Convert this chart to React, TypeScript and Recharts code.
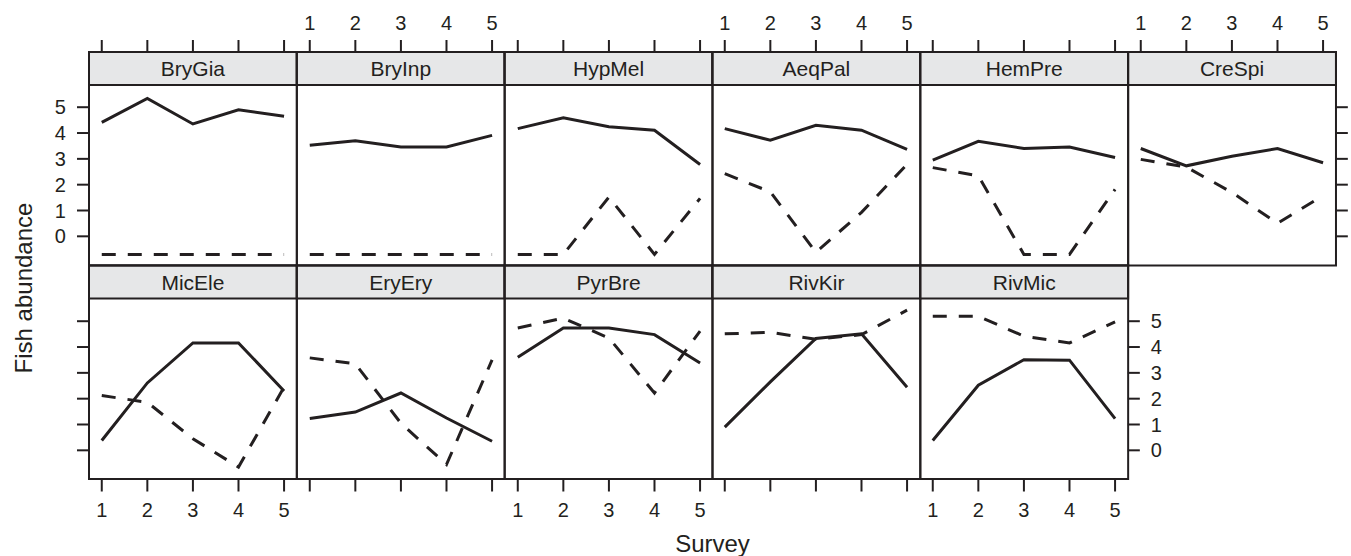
import React from 'react';
import { LineChart, Line, XAxis, YAxis } from 'recharts';

const species = ['BryGia', 'BryInp', 'HypMel', 'AeqPal', 'HemPre', 'CreSpi', 'MicEle', 'EryEry', 'PyrBre', 'RivKir', 'RivMic'];
const surveys = [1, 2, 3, 4, 5];
const yTicks = [0, 1, 2, 3, 4, 5];

// solid line per species (survey 1..5)
const solidSeries = [
  [4.41, 5.34, 4.35, 4.9, 4.65],
  [3.53, 3.7, 3.46, 3.46, 3.91],
  [4.17, 4.59, 4.24, 4.11, 2.78],
  [4.17, 3.72, 4.3, 4.11, 3.37],
  [2.95, 3.68, 3.4, 3.46, 3.05],
  [3.4, 2.73, 3.1, 3.4, 2.85],
  [0.38, 2.61, 4.16, 4.16, 2.3],
  [1.23, 1.48, 2.22, 1.25, 0.35],
  [3.6, 4.74, 4.74, 4.48, 3.38],
  [0.9, 2.65, 4.33, 4.51, 2.44],
  [0.38, 2.52, 3.51, 3.49, 1.23],
];
// dashed line per species (survey 1..5)
const dashedSeries = [
  [-0.7, -0.7, -0.7, -0.7, -0.7],
  [-0.7, -0.7, -0.7, -0.7, -0.7],
  [-0.7, -0.7, 1.52, -0.7, 1.47],
  [2.43, 1.72, -0.62, 0.93, 2.79],
  [2.66, 2.34, -0.7, -0.7, 1.82],
  [2.98, 2.68, 1.7, 0.5, 1.58],
  [2.12, 1.86, 0.45, -0.65, 2.45],
  [3.58, 3.35, 1.05, -0.55, 3.5],
  [4.74, 5.12, 4.35, 2.22, 4.62],
  [4.51, 4.57, 4.3, 4.48, 5.43],
  [5.19, 5.19, 4.42, 4.16, 4.97],
];

const INK = '#231f20';
const STRIP_FILL = '#e6e7e8';
const FONT = '"Liberation Sans", Arial, Helvetica, sans-serif';
const COLS = 6;
const PANEL_LEFT = 89;
const PANEL_W = 207.83;
const STRIP_H = 33;
const ROW_TOP = [52, 265.5];
const ROW_BOTTOM = [265.5, 479];
const X_DOMAIN: [number, number] = [0.72, 5.28];
const Y_MIN = -1.13;
const Y_MAX = 5.86;
const PAD_X = 70;
const PAD_Y = 60;
const Y_AXIS_W = 60;
const X_AXIS_H = 50;
const TICK_FONT = 20;

const hiddenTick = () => <g />;

function panelGeom(idx: number) {
  const row = idx < COLS ? 0 : 1;
  const col = row === 0 ? idx : idx - COLS;
  const left = PANEL_LEFT + col * PANEL_W;
  const top = ROW_TOP[row];
  const bottom = ROW_BOTTOM[row];
  return { row, col, left, top, bottom };
}

function Panel({ idx }: { idx: number }) {
  const { row, col, left, top, bottom } = panelGeom(idx);
  const plotH = bottom - top;
  const panelH = plotH - STRIP_H;
  const pxPerUnit = panelH / (Y_MAX - Y_MIN);
  const yTop = Y_MIN + plotH / pxPerUnit;
  const data = surveys.map((s, i) => ({ survey: s, solid: solidSeries[idx][i], dashed: dashedSeries[idx][i] }));
  const lastCol = row === 0 ? COLS - 1 : species.length - COLS - 1;
  const leftAxis = col === 0;
  const rightAxis = col === lastCol;
  const yLabels = (row === 0 && leftAxis) || (row === 1 && rightAxis);
  const xLabels = row === 0 ? col % 2 === 1 : col % 2 === 0;
  const tickStyle = { fill: INK, fontSize: TICK_FONT, fontFamily: FONT };

  const margin = {
    top: row === 0 ? PAD_Y - X_AXIS_H : PAD_Y,
    bottom: row === 1 ? PAD_Y - X_AXIS_H : PAD_Y,
    left: leftAxis ? PAD_X - Y_AXIS_W : PAD_X,
    right: rightAxis ? PAD_X - Y_AXIS_W : PAD_X,
  };

  return (
    <div style={{ position: 'absolute', left: left - PAD_X, top: top - PAD_Y }}>
      <LineChart width={PANEL_W + 2 * PAD_X} height={plotH + 2 * PAD_Y} data={data} margin={margin}>
        <XAxis
          type="number"
          dataKey="survey"
          domain={X_DOMAIN}
          allowDataOverflow
          ticks={surveys}
          interval={0}
          orientation={row === 0 ? 'top' : 'bottom'}
          height={X_AXIS_H}
          tickSize={12}
          tickMargin={row === 0 ? 10 : 11}
          axisLine={false}
          stroke={INK}
          tickLine={{ stroke: INK, strokeWidth: 2 }}
          tick={xLabels ? tickStyle : hiddenTick}
        />
        <YAxis
          type="number"
          domain={[Y_MIN, yTop]}
          allowDataOverflow
          ticks={yTicks}
          interval={0}
          hide={!leftAxis && !rightAxis}
          orientation={rightAxis ? 'right' : 'left'}
          width={Y_AXIS_W}
          tickSize={12}
          tickMargin={11}
          axisLine={false}
          stroke={INK}
          tickLine={{ stroke: INK, strokeWidth: 2 }}
          tick={yLabels ? tickStyle : hiddenTick}
        />
        <Line
          type="linear"
          dataKey="solid"
          stroke={INK}
          strokeWidth={3}
          dot={false}
          isAnimationActive={false}
        />
        <Line
          type="linear"
          dataKey="dashed"
          stroke={INK}
          strokeWidth={3}
          strokeDasharray="14 12"
          dot={false}
          isAnimationActive={false}
        />
      </LineChart>
    </div>
  );
}

function Frames() {
  return (
    <svg width={1351} height={556} style={{ position: 'absolute', left: 0, top: 0 }}>
      {species.map((name, idx) => {
        const { left, top, bottom } = panelGeom(idx);
        return (
          <g key={name}>
            <rect x={left} y={top} width={PANEL_W} height={STRIP_H} fill={STRIP_FILL} stroke={INK} strokeWidth={2} />
            <rect x={left} y={top} width={PANEL_W} height={bottom - top} fill="none" stroke={INK} strokeWidth={2} />
            <text
              x={left + PANEL_W / 2}
              y={top + STRIP_H / 2}
              textAnchor="middle"
              dominantBaseline="central"
              fontSize={21}
              fill={INK}
              fontFamily={FONT}
            >
              {name}
            </text>
          </g>
        );
      })}
      <text
        x={23}
        y={288}
        transform="rotate(-90 23 288)"
        textAnchor="middle"
        dominantBaseline="central"
        fontSize={24}
        fill={INK}
        fontFamily={FONT}
      >
        Fish abundance
      </text>
      <text
        x={PANEL_LEFT + (COLS * PANEL_W) / 2}
        y={543}
        textAnchor="middle"
        dominantBaseline="central"
        fontSize={24}
        fill={INK}
        fontFamily={FONT}
      >
        Survey
      </text>
    </svg>
  );
}

export default function App() {
  return (
    <div
      style={{
        position: 'absolute',
        left: 0,
        top: 0,
        width: 1351,
        height: 556,
        background: '#ffffff',
        fontFamily: FONT,
        overflow: 'hidden',
      }}
    >
      <Frames />
      {species.map((name, idx) => (
        <Panel key={name} idx={idx} />
      ))}
    </div>
  );
}
